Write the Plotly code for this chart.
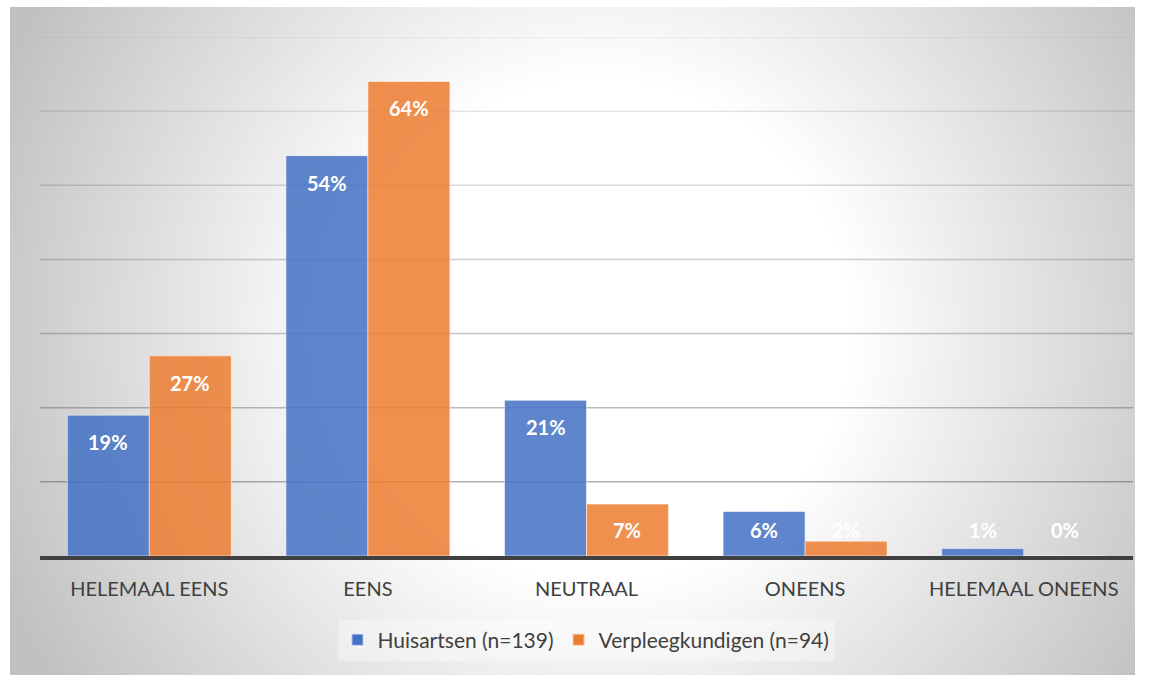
import base64
import struct
import zlib

import numpy as np
import plotly.graph_objects as go

# Survey answers per response category (percent)
categories = ["HELEMAAL EENS", "EENS", "NEUTRAAL", "ONEENS", "HELEMAAL ONEENS"]
huisartsen = [19, 54, 21, 6, 1]
verpleegkundigen = [27, 64, 7, 2, 0]
series_names = ["Huisartsen (n=139)", "Verpleegkundigen (n=94)"]
grid_levels = [10, 20, 30, 40, 50, 60, 70]

W, H = 1155, 675
M_L, M_R, M_T, M_B = 10, 20, 7, 0
PW, PH = W - M_L - M_R, H - M_T - M_B

FONT = "Lato"
TXT = "#404040"
BLUE = "#4472C4"
ORANGE = "#ED7D31"


def grey_png(arr):
    """Encode a 2-D uint8 array as a greyscale PNG data URI."""
    h, w = arr.shape
    raw = b"".join(b"\x00" + arr[row].tobytes() for row in range(h))

    def chunk(tag, data):
        c = struct.pack(">I", len(data)) + tag + data
        return c + struct.pack(">I", zlib.crc32(tag + data) & 0xFFFFFFFF)

    png = (b"\x89PNG\r\n\x1a\n"
           + chunk(b"IHDR", struct.pack(">IIBBBBB", w, h, 8, 0, 0, 0, 0))
           + chunk(b"IDAT", zlib.compress(raw, 9))
           + chunk(b"IEND", b""))
    return "data:image/png;base64," + base64.b64encode(png).decode()


# radial grey fill of the chart area: white in the middle, grey at the rim
cx, cy, R = 590.0, 323.0, 654.0
yy, xx = np.mgrid[0:PH, 0:PW]
r = np.sqrt((xx + 0.5 - cx) ** 2 + (yy + 0.5 - cy) ** 2) / R
t = np.clip((r - 0.38) / (1.0 - 0.38), 0, 1)
bg = np.round(255 - (255 - 192) * t).astype(np.uint8)

fig = go.Figure()

# --- grouped bars ---
for name, vals, col in [(series_names[0], huisartsen, BLUE),
                        (series_names[1], verpleegkundigen, ORANGE)]:
    fig.add_trace(go.Bar(
        x=categories, y=vals, name=name,
        marker=dict(color=col, opacity=0.85,
                    line=dict(color="rgba(255,255,255,0.55)", width=1)),
        hoverinfo="skip",
    ))

bargap = 0.25
half = (1 - bargap) / 4

# value labels near the top of every bar
annotations = []
for i in range(len(categories)):
    for vals, off in [(huisartsen, -half), (verpleegkundigen, half)]:
        v = vals[i]
        annotations.append(dict(
            x=i + off, y=max(v, 7.1), xref="x", yref="y",
            text=f"{v}%", showarrow=False, yanchor="middle", yshift=-27,
            font=dict(family=FONT, size=20, color="white", weight="bold"),
        ))

# horizontal gridlines, lighter toward the top
shapes = []
for lv in grid_levels:
    a = 0.40 - 0.32 * (lv - 10) / 60
    shapes.append(dict(
        type="line", xref="x domain", yref="y", x0=0, x1=1, y0=lv, y1=lv,
        line=dict(color=f"rgba(60,60,60,{a:.3f})", width=1.5), layer="below",
    ))

x_dom = [(40 - M_L) / PW, (1133 - M_L) / PW]
y_dom = [(H - 556) / PH, (H - 37) / PH]

fig.update_layout(
    width=W, height=H,
    margin=dict(l=M_L, r=M_R, t=M_T, b=M_B),
    paper_bgcolor="white",
    plot_bgcolor="rgba(0,0,0,0)",
    barmode="group", bargap=bargap, bargroupgap=0.0,
    font=dict(family=FONT, color=TXT),
    images=[dict(source=grey_png(bg), xref="paper", yref="paper",
                 x=0, y=1, sizex=1, sizey=1, xanchor="left", yanchor="top",
                 sizing="stretch", layer="below")],
    xaxis=dict(domain=x_dom, type="category",
               showgrid=False, showline=True, linecolor="#404040", linewidth=4,
               ticks="", ticklabelstandoff=12,
               tickfont=dict(family=FONT, size=20, color=TXT)),
    yaxis=dict(domain=y_dom, range=[0, 70],
               showgrid=False, zeroline=False, showticklabels=False),
    showlegend=True,
    legend=dict(orientation="h", x=(586 - M_L) / PW, xanchor="center",
                y=(H - 640) / PH, yanchor="middle",
                bgcolor="rgba(255,255,255,0.35)",
                font=dict(family=FONT, size=21, color=TXT),
                itemsizing="constant", itemwidth=30),
    annotations=annotations,
    shapes=shapes,
)

fig.write_html("out.html")
